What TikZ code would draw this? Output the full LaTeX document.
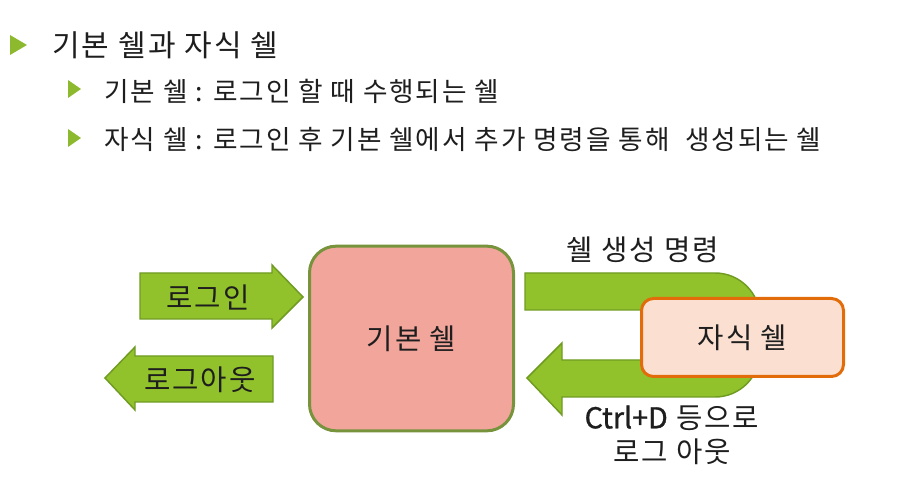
\documentclass[tikz,border=0pt]{standalone}
\usepackage{fontspec}
\setmainfont[LetterSpace=7]{Noto Sans CJK KR}
\newfontfamily\keyfont[FakeBold=1.2]{Noto Sans CJK KR}
\definecolor{bulletgreen}{HTML}{8DB92E}
\definecolor{arrowfill}{HTML}{92C22B}
\definecolor{arrowline}{HTML}{6F9B22}
\definecolor{oliveline}{HTML}{77933C}
\definecolor{basefill}{HTML}{F2A59B}
\definecolor{childfill}{HTML}{FBE0D2}
\definecolor{childline}{HTML}{E36C0A}
\definecolor{ink}{HTML}{1E1E1E}
\begin{document}
\begin{tikzpicture}[x=0.75pt,y=-0.75pt,
    bulletmark/.style={fill=bulletgreen},
    itemtext/.style={anchor=west,inner sep=0pt,text=ink,font=\fontsize{20}{23}\selectfont},
    greenarrow/.style={fill=arrowfill,draw=arrowline,line width=1.1pt,line join=miter},
    diagtext/.style={inner sep=0pt,text=ink,font=\fontsize{21.5}{25.5}\selectfont}]
  \useasboundingbox (0,0) rectangle (901,481);
  \fill[bulletmark] (10,35) -- (27,45) -- (10,55) -- cycle;
  \fill[bulletmark] (68,80) -- (81,89) -- (68,98) -- cycle;
  \fill[bulletmark] (68,129) -- (81,138) -- (68,147) -- cycle;
  \draw
    (52,45) node[itemtext,font=\fontsize{22.5}{26}\selectfont] (title){기본 쉘과 자식 쉘}
    (104,91) node[itemtext] (item1){기본 쉘 : 로그인 할 때 수행되는 쉘}
    (104,140) node[itemtext] (item2){자식 쉘 : 로그인 후 기본 쉘에서 추가 명령을 통해\ \ 생성되는 쉘};
  \draw[greenarrow] (140,273) -- (272,273) -- (272,265) -- (303,297) -- (272,328)
    -- (272,319) -- (140,319) -- cycle;
  \draw[greenarrow] (105,378) -- (135,347) -- (135,356) -- (273,356) -- (273,402)
    -- (135,402) -- (135,410) -- cycle;
  \draw[greenarrow] (525,273) [rounded corners=33.75pt] -- (760,273) -- (760,397)
    [sharp corners] -- (562,397) -- (562,415) -- (527,378) -- (562,343) -- (562,360)
    -- (690,360) -- (690,310) -- (525,310) -- cycle;
  \draw
    (208,297) node[diagtext] (login){로그인}
    (200,380) node[diagtext] (logout){로그아웃}
    (411.5,338.5) node[diagtext,draw=oliveline,fill=basefill,line width=2.25pt,
      rounded corners=20pt,minimum width=153pt,minimum height=138.5pt] (base){기본 쉘}
    (742.5,337.5) node[diagtext,draw=childline,fill=childfill,line width=2.25pt,
      rounded corners=9pt,minimum width=151.5pt,minimum height=58.5pt] (child){자식 쉘}
    (643,250) node[diagtext] (spawn){쉘 생성 명령}
    (672,435) node[diagtext,align=center] (exit){{\keyfont Ctrl+D} 등으로\\로그 아웃};
\end{tikzpicture}
\end{document}
